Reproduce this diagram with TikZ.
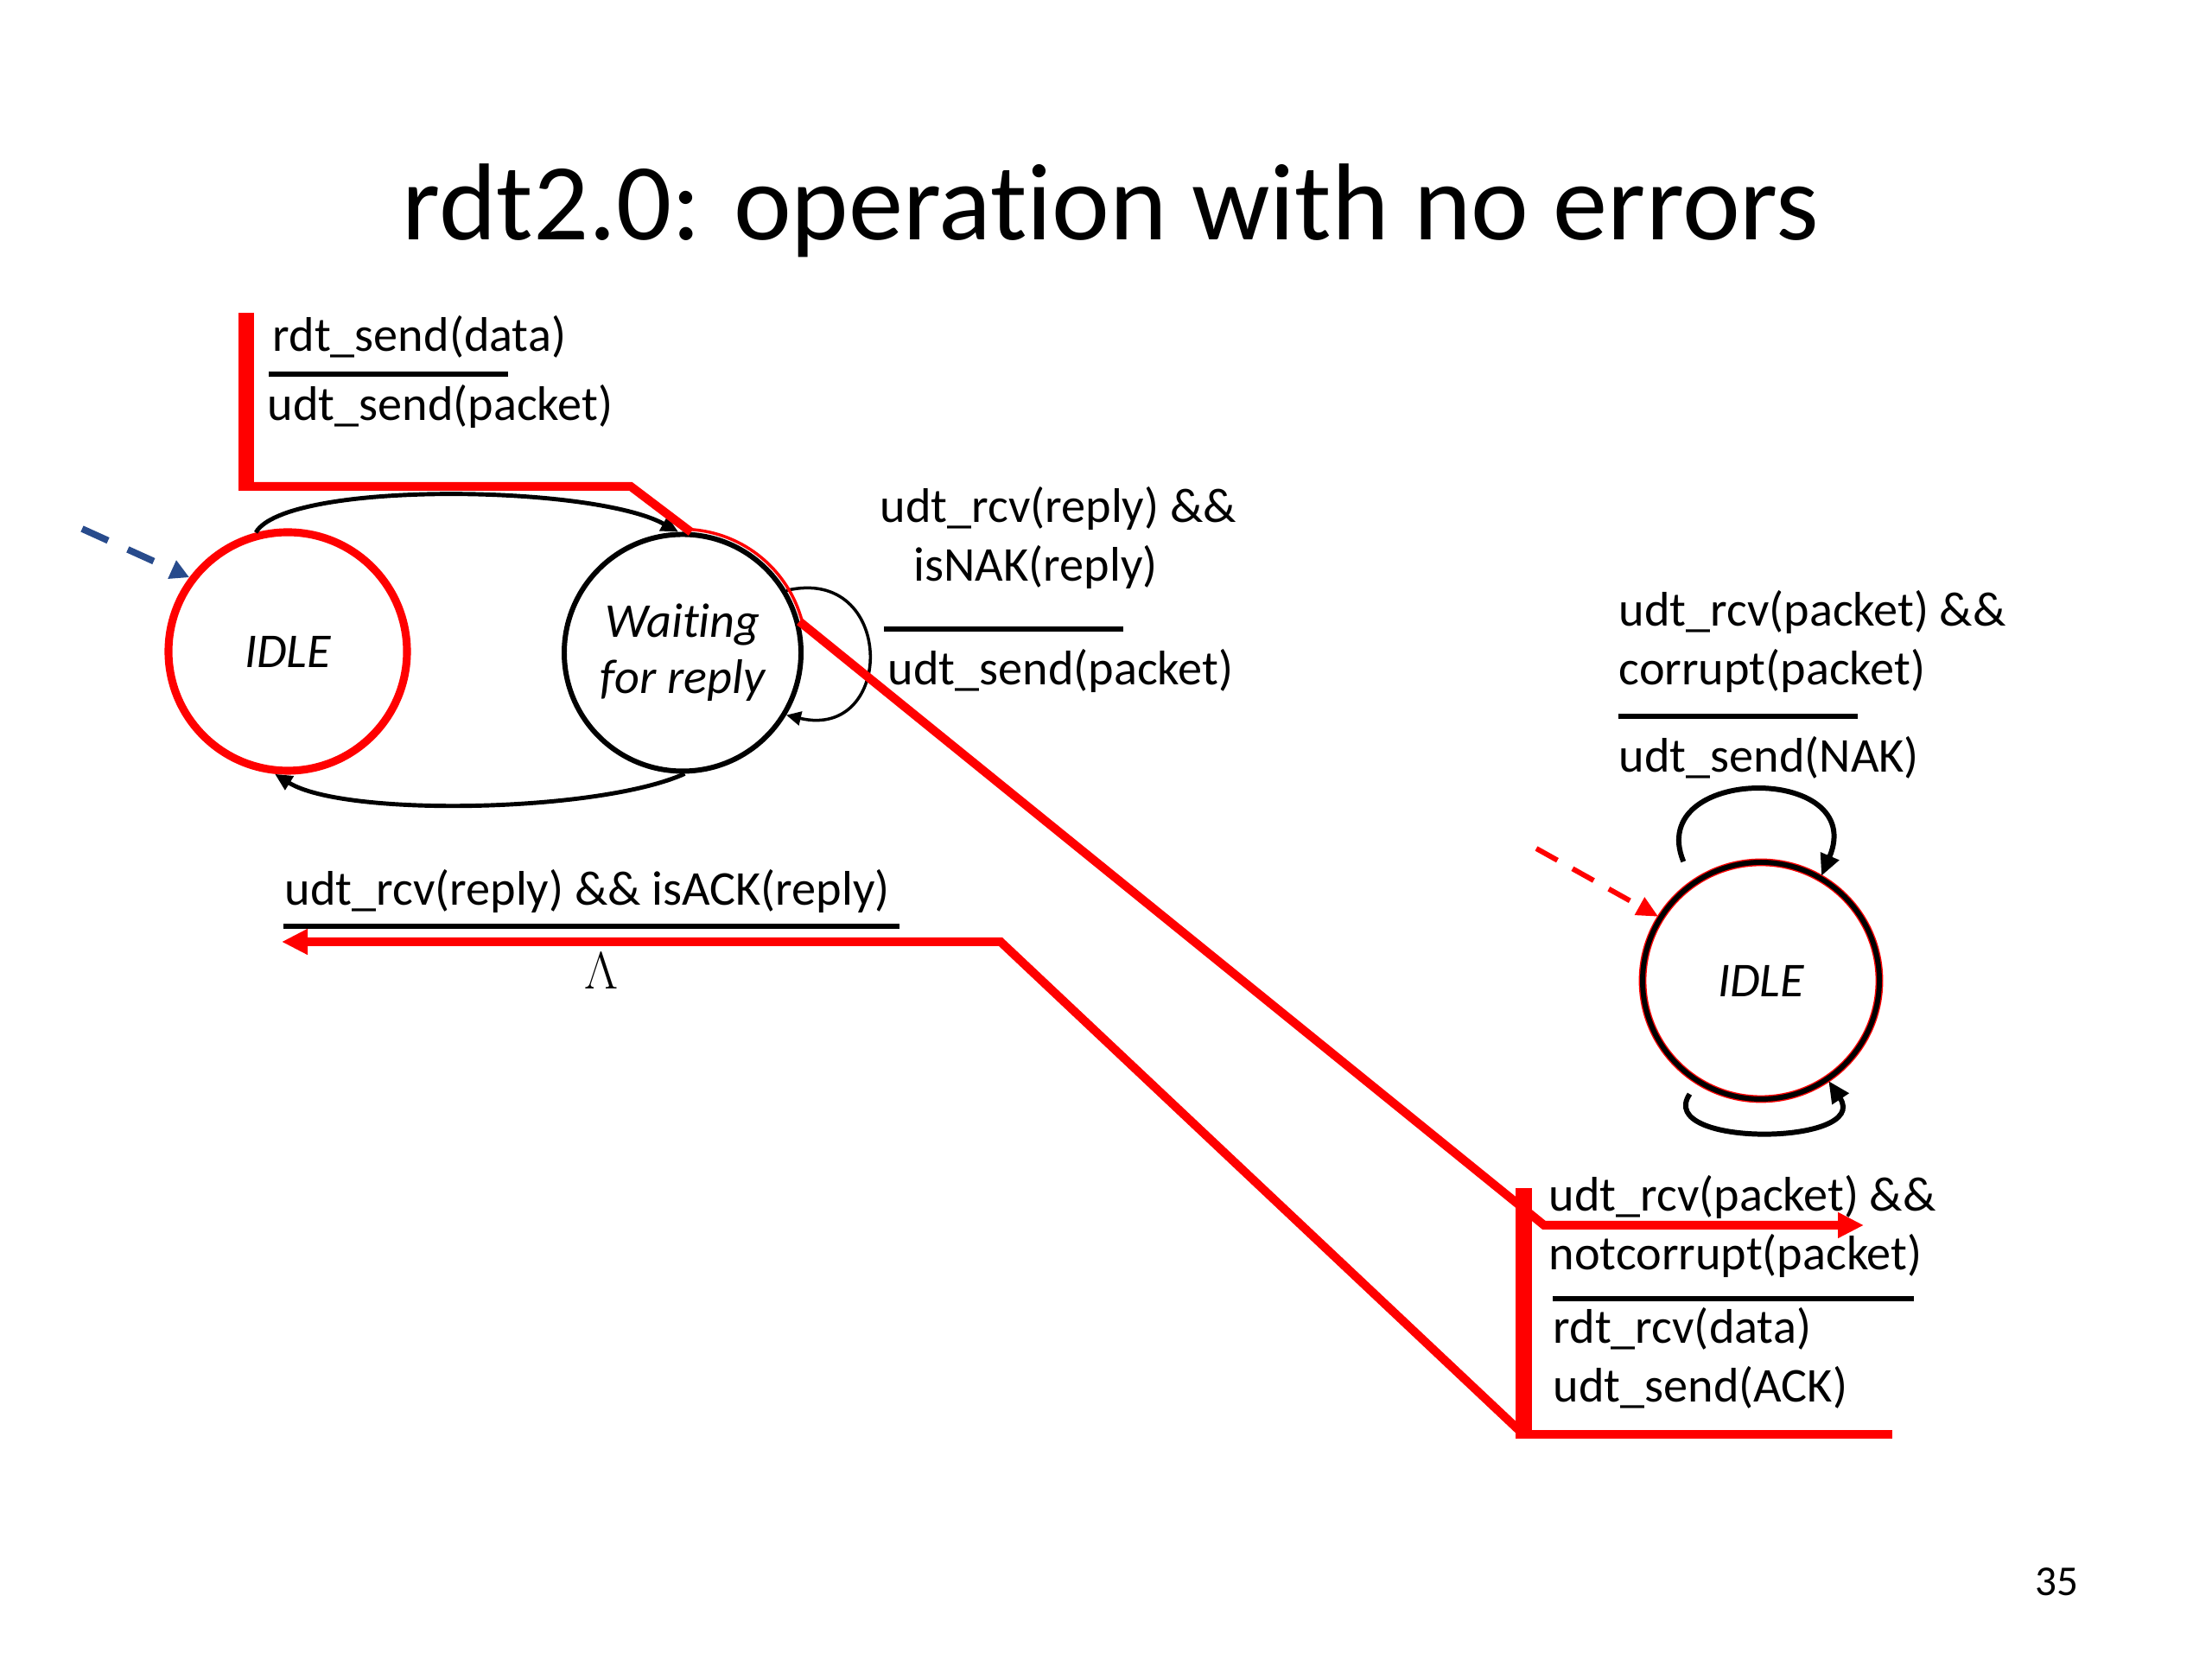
\documentclass[tikz,border=0pt]{standalone}
\usepackage{fontspec}
\setmainfont{Carlito}
\usepackage{xcolor}
\usepackage{tikz}
\usetikzlibrary{arrows.meta}
\usetikzlibrary{calc}

\definecolor{initblue}{RGB}{40,75,140}

\tikzset{
  fsm/.style={circle, draw, line width=1.7pt, minimum size=2.74cm, inner sep=0pt,
    font=\fontsize{16}{18.5}\selectfont\itshape, align=center},
  redrim/.style={preaction={draw=red, line width=2.5pt}},
  lbl/.style={anchor=base west, inner sep=0pt, font=\fontsize{16}{19.5}\selectfont, align=left},
  fracbar/.style={line width=1.9pt},
  trans/.style={line width=1.4pt, -{Triangle[length=0.2cm,width=0.18cm]}},
  selfloop/.style={line width=1.7pt, -{Triangle[length=0.25cm,width=0.22cm]}},
  initL/.style={initblue, line width=2.2pt, dash pattern=on 0.33cm off 0.25cm,
    -{Triangle[length=0.22cm,width=0.22cm]}},
  initR/.style={red, line width=1.7pt, dash pattern=on 0.28cm off 0.2cm,
    -{Triangle[length=0.25cm,width=0.22cm]}},
  hiline/.style={red, line width=2.85pt},
  hibar/.style={red, line width=5.4pt},
  hirim/.style={red, line width=1pt},
  hiarrow/.style={hiline, -{Triangle[length=0.3cm,width=0.28cm]}}
}

\begin{document}
\begin{tikzpicture}
  \useasboundingbox (0,0) rectangle (25.6,19.2);

  % title (kern keeps t and i apart)
  \node[anchor=base west, inner sep=0pt, font=\fontsize{36}{43}\selectfont] (title) at (4.65,16.42)
    {rdt2.0: operat\kern0pt ion with no errors};
  \node[anchor=base, inner sep=0pt, font=\fontsize{14}{17}\selectfont] (pnum) at (23.80,0.73) {35};

  % sender states
  \node[fsm, draw=red, line width=2.6pt, minimum size=2.76cm] (idleS) at (3.33,11.66) {IDLE};
  \node[fsm] (wait) at (7.90,11.645) {Wait\kern0pt ing\\for reply};
  % receiver state
  \node[fsm, redrim] (idleR) at (20.38,7.85) {IDLE};

  % initial arrows
  \coordinate (startS) at (0.95,13.08);
  \coordinate (startR) at (17.78,9.38);
  \draw[initL] (startS) -- (idleS.143);
  \draw[initR] (startR) -- (idleR.148);

  % sender transitions
  \draw[trans] (idleS.105) .. controls +(0.35,0.6) and +(-1.0,0.55) .. (wait.92);
  \draw[trans] (wait.-89) .. controls +(-1.0,-0.45) and +(0.8,-0.5) .. (idleS.-96);
  \draw[line width=1pt, -{Triangle[length=0.17cm,width=0.16cm]}]
    (wait.31) .. controls +(1.27,0.3) and +(1.27,-0.3) .. (wait.-31);

  % receiver transitions
  \draw[selfloop, shorten <=0.25cm] (idleR.125) .. controls +(-0.55,1.35) and +(0.55,1.3) .. (idleR.60);
  \draw[selfloop, shorten <=0.15cm] (idleR.-122) .. controls +(-0.5,-0.75) and +(0.5,-0.75) .. (idleR.-56);

  % labels: rdt_send
  \node[lbl] (sendEv) at (3.15,15.13) {rdt\_send(data)};
  \draw[fracbar] (3.11,14.87) -- (5.88,14.87);
  \node[lbl] (sendAct) at (3.09,14.33) {udt\_send(packet)};

  % labels: NAK at sender (base = last line)
  \node[lbl] (nakEv) at (10.18,12.47) {udt\_rcv(reply) \&\&\\\hspace*{0.39cm}isNAK(reply)};
  \draw[fracbar] (10.23,11.92) -- (13.00,11.92);
  \node[lbl] (nakAct) at (10.27,11.27) {udt\_send(packet)};

  % labels: ACK at sender
  \node[lbl] (ackEv) at (3.29,8.72) {udt\_rcv(reply) \&\& isACK(reply)};
  \draw[fracbar] (3.28,8.48) -- (10.41,8.48);
  \node[anchor=base, inner sep=0pt, font=\fontsize{16}{19}\selectfont] (ackAct) at (6.96,7.75) {$\Lambda$};

  % labels: receiver
  \node[lbl] (rNakEv) at (18.73,11.27) {udt\_rcv(packet) \&\&\\corrupt(packet)};
  \draw[fracbar] (18.73,10.91) -- (21.50,10.91);
  \node[lbl] (rNakAct) at (18.73,10.26) {udt\_send(NAK)};

  \node[lbl] (rAckEv) at (17.92,4.50) {udt\_rcv(packet) \&\&\\notcorrupt(packet)};
  \draw[fracbar] (17.97,4.17) -- (22.15,4.17);
  \node[lbl] (rAckAct) at (17.97,2.97) {rdt\_rcv(data)\\udt\_send(ACK)};

  % red trace of the packet
  \coordinate (sendTop) at (2.85,15.58);
  \coordinate (sendLow) at (2.85,13.57);
  \coordinate (sendBend) at (7.30,13.57);
  \coordinate (rcvIn) at (17.87,5.02);
  \coordinate (rcvTip) at (21.57,5.02);
  \draw[hibar] (sendTop) -- ++(0,-2.06);
  \draw[hiline] (sendLow) -- (sendBend) -- (wait.86);
  \draw[hirim] (wait.center) ++(86:1.43) arc[start angle=86, end angle=15, radius=1.43];
  \draw[hiarrow] (wait.15) -- (rcvIn) -- (rcvTip);

  % red trace of the ACK
  \coordinate (ackTop) at (17.63,5.45);
  \coordinate (ackLow) at (17.63,2.60);
  \coordinate (ackEnd) at (21.90,2.60);
  \coordinate (ackBend) at (11.58,8.30);
  \coordinate (ackTip) at (3.26,8.30);
  \draw[hibar] (ackTop) -- ++(0,-2.90);
  \draw[hiline] (ackLow) -- (ackEnd);
  \draw[hiarrow] (ackLow) -- (ackBend) -- (ackTip);
\end{tikzpicture}
\end{document}
